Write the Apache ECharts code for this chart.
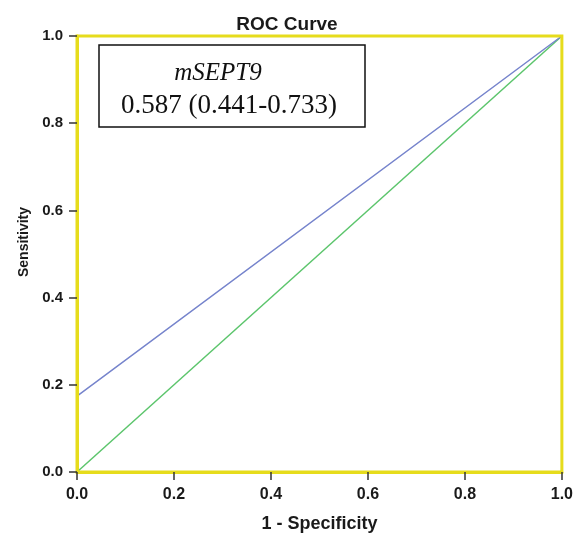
<!DOCTYPE html>
<html>
<head>
<meta charset="utf-8">
<script src="https://cdn.jsdelivr.net/npm/echarts@6/dist/echarts.min.js"></script>
<style>
  html, body { margin: 0; padding: 0; background: #ffffff; }
  #chart { width: 576px; height: 538px; }
</style>
</head>
<body>
<div id="chart"></div>
<script>
// ROC curve for mSEPT9 with the chance diagonal
const curveFpr = [0, 0, 1];
const curveTpr = [0, 0.174, 1];
const refFpr = [0, 1];
const refTpr = [0, 1];
const markerName = 'mSEPT9';
const aucText = '0.587 (0.441-0.733)';
const tickValues = [0, 0.2, 0.4, 0.6, 0.8, 1.0];

const pairs = (xs, ys) => xs.map((x, i) => [x, ys[i]]);

const frameYellow = '#e6dc1c';
const sans = '"Liberation Sans", Arial, sans-serif';
const serif = '"Liberation Serif", "Times New Roman", serif';

const axisCommon = {
  type: 'value',
  min: tickValues[0],
  max: tickValues[tickValues.length - 1],
  interval: 0.2,
  z: 6,
  axisLine: { show: true, lineStyle: { color: frameYellow, width: 3 } },
  axisTick: { show: true, inside: false, length: 8, lineStyle: { color: '#333', width: 1.5 } },
  splitLine: { show: false },
  axisLabel: {
    color: '#1a1a1a',
    fontFamily: sans,
    fontWeight: 'bold',
    fontSize: 15,
    formatter: v => v.toFixed(1)
  },
  nameLocation: 'middle',
  nameTextStyle: { color: '#1a1a1a', fontFamily: sans, fontWeight: 'bold' }
};

const chart = echarts.init(document.getElementById('chart'), null, { renderer: 'canvas' });
chart.setOption({
  animation: false,
  backgroundColor: '#ffffff',
  title: {
    text: 'ROC Curve',
    left: 282,
    top: 10,
    textAlign: 'center',
    textStyle: { fontFamily: sans, fontWeight: 'bold', fontSize: 19, color: '#1a1a1a' }
  },
  grid: {
    left: 77, right: 13, top: 36, bottom: 62,
    show: true,
    z: 6,
    borderColor: frameYellow,
    borderWidth: 3,
    backgroundColor: 'transparent'
  },
  xAxis: Object.assign({}, axisCommon, {
    name: '1 - Specificity',
    nameGap: 43,
    axisLabel: Object.assign({}, axisCommon.axisLabel, { margin: 15, fontSize: 16 }),
    nameTextStyle: Object.assign({}, axisCommon.nameTextStyle, { fontSize: 18 })
  }),
  yAxis: Object.assign({}, axisCommon, {
    name: 'Sensitivity',
    nameGap: 43,
    nameRotate: 90,
    axisLabel: Object.assign({}, axisCommon.axisLabel, { margin: 14 }),
    nameTextStyle: Object.assign({}, axisCommon.nameTextStyle, { fontSize: 14, padding: [0, 0, 0, 24] })
  }),
  series: [
    {
      name: 'Reference',
      type: 'line',
      data: pairs(refFpr, refTpr),
      symbol: 'none',
      lineStyle: { color: '#5cc56c', width: 1.5 },
      z: 2
    },
    {
      name: markerName,
      type: 'line',
      data: pairs(curveFpr, curveTpr),
      symbol: 'none',
      lineStyle: { color: '#7684cc', width: 1.5 },
      z: 3
    }
  ],
  graphic: [
    {
      type: 'rect',
      shape: { x: 99, y: 45, width: 266, height: 82 },
      style: { fill: '#ffffff', stroke: '#111', lineWidth: 1.5 },
      z: 10
    },
    {
      type: 'text',
      x: 218, y: 73,
      style: {
        text: markerName,
        font: 'italic 25px ' + serif,
        fill: '#111',
        align: 'center',
        verticalAlign: 'middle'
      },
      z: 11
    },
    {
      type: 'text',
      x: 229, y: 106,
      style: {
        text: aucText,
        font: '27px ' + serif,
        fill: '#111',
        align: 'center',
        verticalAlign: 'middle'
      },
      z: 11
    }
  ]
});
</script>
</body>
</html>
